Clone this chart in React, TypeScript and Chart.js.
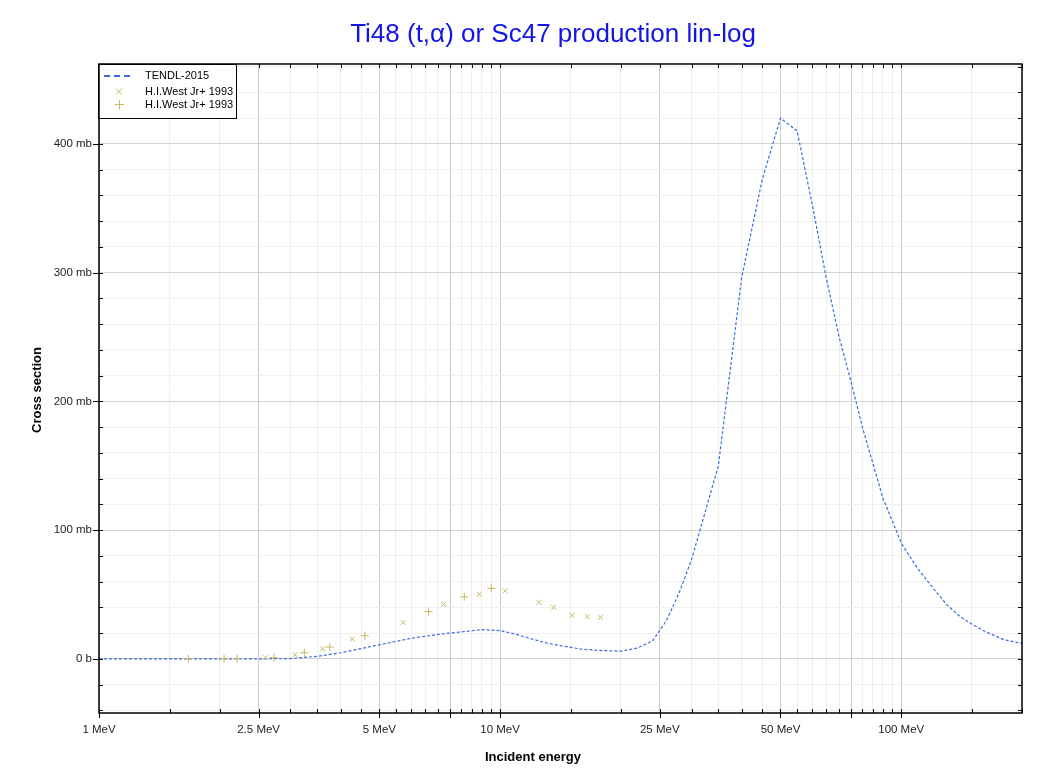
import React, { useEffect, useRef } from 'react';
import { Chart, registerables } from 'chart.js';

Chart.register(...registerables);

const chartTitle = 'Ti48 (t,α) or Sc47 production lin-log';
const xAxisTitle = 'Incident energy';
const yAxisTitle = 'Cross section';

const tendlLabel = 'TENDL-2015';
const tendlEnergy = [1, 1.5, 2, 2.5, 3, 3.5, 4, 4.5, 5, 6, 7, 8, 9, 10, 11, 12, 13, 14, 15, 16, 18, 20, 22, 24, 25, 26, 28, 30, 35, 40, 45, 50, 55, 60, 65, 70, 75, 80, 90, 100, 110, 120, 130, 140, 150, 160, 180, 200];
const tendlXs = [0, 0, 0, 0.05, 0.3, 2, 4.8, 8, 11, 16, 19, 21, 22.7, 22, 19, 15.5, 12.5, 10.5, 9, 7.5, 6.5, 6, 8.5, 14, 22, 30, 52, 77, 150, 296, 372, 420, 410, 353, 296, 250, 215, 180, 125, 90, 70, 55, 42, 33, 27, 22, 15, 12];

const westLabel = 'H.I.West Jr+ 1993';
const westCrossEnergy = [2.6, 3.08, 3.61, 4.28, 5.73, 7.23, 8.87, 10.3, 12.5, 13.6, 15.1, 16.5, 17.8];
const westCrossXs = [1, 3.3, 7.9, 15.4, 28.3, 42.3, 50.2, 53, 43.9, 40, 33.8, 32.8, 32.2];
const westPlusEnergy = [1.67, 2.05, 2.21, 2.73, 3.25, 3.76, 4.6, 6.63, 8.14, 9.51];
const westPlusXs = [0.1, 0.1, 0.2, 1, 4.8, 9.2, 18, 36.7, 48.2, 54.8];

const xTickValues = [1, 1.5, 2, 2.5, 3, 3.5, 4, 4.5, 5, 5.5, 6, 6.5, 7, 7.5, 8, 8.5, 9, 9.5, 10, 15, 20, 25, 30, 35, 40, 45, 50, 55, 60, 65, 70, 75, 80, 85, 90, 95, 100, 150, 200];
const xLabelledTicks = [1, 2.5, 5, 10, 25, 50, 100];
const xMajorTicks = [1, 2.5, 5, 7.5, 10, 25, 50, 75, 100];
const yTickValues = [-40, -20, 0, 20, 40, 60, 80, 100, 120, 140, 160, 180, 200, 220, 240, 260, 280, 300, 320, 340, 360, 380, 400, 420, 440, 460];
const yLabelledTicks = [0, 100, 200, 300, 400];

const X_MIN = 1;
const X_MAX = 200;
const Y_MIN = -42;
const Y_MAX = 462;

const LINE_COLOR = '#3d6be0';
const MARK_COLOR = 'rgb(196,186,96)';
const FONT = '"Liberation Sans", Arial, sans-serif';

const toPoints = (xs: number[], ys: number[]) => xs.map((x, i) => ({ x, y: ys[i] }));

const decorPlugin = {
  id: 'decor',
  beforeDraw(chart: any) {
    const ctx = chart.ctx;
    ctx.save();
    ctx.fillStyle = '#ffffff';
    ctx.fillRect(0, 0, chart.width, chart.height);
    ctx.restore();
  },
  afterDraw(chart: any) {
    const ctx = chart.ctx;
    const { left, right, top, bottom } = chart.chartArea;
    const xs = chart.scales.x;
    const ys = chart.scales.y;
    ctx.save();
    ctx.strokeStyle = '#000';
    ctx.lineWidth = 1;
    ctx.beginPath();
    xTickValues.forEach((v) => {
      const px = Math.round(xs.getPixelForValue(v)) + 0.5;
      const maj = xMajorTicks.includes(v);
      ctx.moveTo(px, bottom - 4);
      ctx.lineTo(px, bottom + (maj ? 5 : 0));
      ctx.moveTo(px, top);
      ctx.lineTo(px, top + 4);
    });
    yTickValues.forEach((v) => {
      const py = Math.round(ys.getPixelForValue(v)) + 0.5;
      const maj = yLabelledTicks.includes(v);
      ctx.moveTo(left - (maj ? 6 : 0), py);
      ctx.lineTo(left + 4, py);
      ctx.moveTo(right - 4, py);
      ctx.lineTo(right, py);
    });
    ctx.stroke();

    // legend
    const lx = 98.5, ly = 64.5, lw = 138, lh = 54;
    ctx.fillStyle = '#fff';
    ctx.fillRect(lx, ly, lw, lh);
    ctx.lineWidth = 1;
    ctx.strokeStyle = '#000';
    ctx.strokeRect(lx, ly, lw, lh);

    ctx.strokeStyle = LINE_COLOR;
    ctx.lineWidth = 2;
    ctx.setLineDash([6, 4]);
    ctx.beginPath();
    ctx.moveTo(104, 76);
    ctx.lineTo(131, 76);
    ctx.stroke();
    ctx.setLineDash([]);

    ctx.strokeStyle = MARK_COLOR;
    ctx.lineWidth = 1;
    ctx.beginPath();
    ctx.moveTo(116, 88.5); ctx.lineTo(122, 94.5);
    ctx.moveTo(122, 88.5); ctx.lineTo(116, 94.5);
    ctx.moveTo(114.5, 104.5); ctx.lineTo(124, 104.5);
    ctx.moveTo(119.5, 100); ctx.lineTo(119.5, 109.5);
    ctx.stroke();

    ctx.fillStyle = '#000';
    ctx.font = `11px ${FONT}`;
    ctx.textAlign = 'left';
    ctx.textBaseline = 'middle';
    ctx.fillText(tendlLabel, 145, 76);
    ctx.fillText(westLabel, 145, 91.5);
    ctx.fillText(westLabel, 145, 104.5);

    // frame
    ctx.strokeStyle = '#000';
    ctx.lineWidth = 1.5;
    ctx.strokeRect(left, top, right - left, bottom - top);

    // title
    ctx.fillStyle = '#1414e6';
    ctx.font = `26px ${FONT}`;
    ctx.textAlign = 'center';
    ctx.textBaseline = 'middle';
    ctx.fillText(chartTitle, 553, 35);

    // axis titles
    ctx.fillStyle = '#000';
    ctx.font = `bold 13px ${FONT}`;
    ctx.fillText(xAxisTitle, 533, 757);
    ctx.save();
    ctx.translate(37, 390);
    ctx.rotate(-Math.PI / 2);
    ctx.fillText(yAxisTitle, 0, 0);
    ctx.restore();

    ctx.restore();
  },
};

export default function App() {
  const canvasRef = useRef<HTMLCanvasElement | null>(null);

  useEffect(() => {
    const canvas = canvasRef.current;
    if (!canvas) return;
    const chart = new Chart(canvas, {
      type: 'scatter',
      data: {
        datasets: [
          {
            label: westLabel,
            data: toPoints(westCrossEnergy, westCrossXs),
            pointStyle: 'crossRot',
            pointRadius: 3.5,
            pointBorderColor: MARK_COLOR,
            pointBackgroundColor: MARK_COLOR,
            pointBorderWidth: 1,
            showLine: false,
          } as any,
          {
            label: westLabel,
            data: toPoints(westPlusEnergy, westPlusXs),
            pointStyle: 'cross',
            pointRadius: 4,
            pointBorderColor: MARK_COLOR,
            pointBackgroundColor: MARK_COLOR,
            pointBorderWidth: 1,
            showLine: false,
          } as any,
          {
            label: tendlLabel,
            data: toPoints(tendlEnergy, tendlXs),
            showLine: true,
            borderColor: LINE_COLOR,
            borderWidth: 1.2,
            borderDash: [3, 2],
            pointRadius: 0,
            tension: 0,
            fill: false,
          } as any,
        ],
      },
      options: {
        animation: false,
        responsive: false,
        devicePixelRatio: 1,
        layout: { padding: { top: 64, right: 31, left: 0, bottom: 0 } },
        plugins: {
          legend: { display: false },
          title: { display: false },
          tooltip: { enabled: false },
        },
        scales: {
          x: {
            type: 'logarithmic',
            min: X_MIN,
            max: X_MAX,
            afterBuildTicks: (scale: any) => {
              scale.ticks = xTickValues.map((v) => ({ value: v }));
            },
            afterFit: (scale: any) => {
              scale.height = 59;
            },
            border: { display: false },
            grid: {
              drawTicks: false,
              lineWidth: 1,
              color: (c: any) => (xMajorTicks.includes(c.tick?.value) ? '#cbcbcb' : '#eeeeee'),
            },
            ticks: {
              autoSkip: false,
              maxRotation: 0,
              minRotation: 0,
              padding: 10,
              color: '#222',
              font: { family: FONT, size: 11.5 },
              callback: (v: any) => (xLabelledTicks.includes(Number(v)) ? `${v} MeV` : ''),
            },
          },
          y: {
            type: 'linear',
            min: Y_MIN,
            max: Y_MAX,
            afterBuildTicks: (scale: any) => {
              scale.ticks = yTickValues.map((v) => ({ value: v }));
            },
            afterFit: (scale: any) => {
              scale.width = 99;
            },
            border: { display: false },
            grid: {
              drawTicks: false,
              lineWidth: 1,
              color: (c: any) => (yLabelledTicks.includes(c.tick?.value) ? '#d2d2d2' : '#f0f0f0'),
            },
            ticks: {
              autoSkip: false,
              padding: 7,
              color: '#222',
              font: { family: FONT, size: 11.5 },
              callback: (v: any) => {
                const n = Number(v);
                if (!yLabelledTicks.includes(n)) return '';
                return n === 0 ? '0 b' : `${n} mb`;
              },
            },
          },
        },
      } as any,
      plugins: [decorPlugin],
    });
    return () => chart.destroy();
  }, []);

  return (
    <div style={{ position: 'absolute', left: 0, top: 0, width: 1053, height: 772 }}>
      <canvas ref={canvasRef} width={1053} height={772} style={{ width: 1053, height: 772, display: 'block' }} />
    </div>
  );
}
